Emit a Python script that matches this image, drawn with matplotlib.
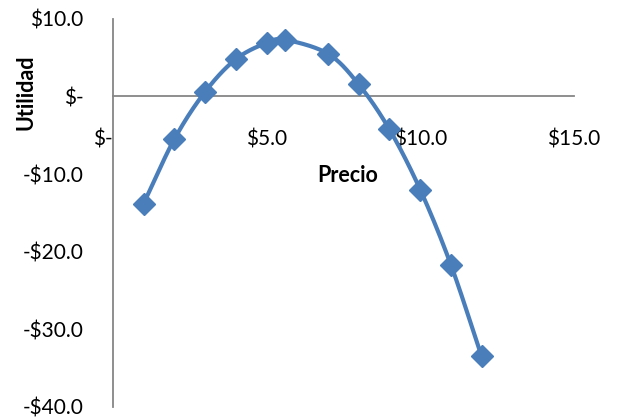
import numpy as np
import matplotlib.pyplot as plt

plt.rcParams['font.family'] = ['Lato', 'DejaVu Sans']

# Precio vs Utilidad
precio = [1.0, 2.0, 3.0, 4.0, 5.0, 5.6, 7.0, 8.0, 9.0, 10.0, 11.0, 12.0]
utilidad = [-13.8, -5.5, 0.6, 4.8, 6.9, 7.3, 5.5, 1.55, -4.25, -12.0, -21.7, -33.5]

x_ticks = [0, 5, 10, 15]
x_labels = ['$-', '$5.0', '$10.0', '$15.0']
y_ticks = [10, 0, -10, -20, -30, -40]
y_labels = ['$10.0', '$-', '-$10.0', '-$20.0', '-$30.0', '-$40.0']

blue = '#4A7EBB'
grey = '#868686'


def smooth(xs, ys, n=30):
    """Catmull-Rom spline through the points, like a smoothed line."""
    p = np.column_stack([xs, ys])
    p = np.vstack([p[0] - (p[1] - p[0]), p, p[-1] + (p[-1] - p[-2])])
    out = []
    t = np.linspace(0, 1, n)[:, None]
    for i in range(1, len(p) - 2):
        p0, p1, p2, p3 = p[i - 1], p[i], p[i + 1], p[i + 2]
        seg = 0.5 * ((2 * p1) + (-p0 + p2) * t
                     + (2 * p0 - 5 * p1 + 4 * p2 - p3) * t ** 2
                     + (-p0 + 3 * p1 - 3 * p2 + p3) * t ** 3)
        out.append(seg if i == 1 else seg[1:])
    out = np.vstack(out)
    return out[:, 0], out[:, 1]


fig = plt.figure(figsize=(6.17, 4.19), dpi=100)
ax = fig.add_axes([0.183, 0.029, 0.747, 0.926])

sx, sy = smooth(precio, utilidad)
ax.plot(sx, sy, color=blue, lw=3.0, solid_capstyle='round', zorder=3)
ax.plot(precio, utilidad, ls='none', marker='D', ms=11, color=blue, zorder=4)

ax.set_xlim(0, 15)
ax.set_ylim(-40, 10)

for s in ['top', 'right']:
    ax.spines[s].set_visible(False)
ax.spines['bottom'].set_position(('data', 0))
ax.spines['left'].set_position(('data', 0))
for s in ['bottom', 'left']:
    ax.spines[s].set_color(grey)
    ax.spines[s].set_linewidth(1.3)

ax.set_xticks(x_ticks)
ax.set_xticklabels(x_labels)
ax.set_yticks(y_ticks)
ax.set_yticklabels(y_labels)
ax.tick_params(axis='x', length=0, pad=24, labelsize=15)
ax.tick_params(axis='y', length=0, pad=21, labelsize=15)
ax.get_xticklabels()[0].set_horizontalalignment('right')

fig.text(0.564, 0.582, 'Precio', fontsize=15.5, fontweight='bold', ha='center', va='center')
fig.text(0.042, 0.78, 'Utilidad', fontsize=15.5, fontweight='bold', rotation=90,
         ha='center', va='center')

fig.savefig('out.png', dpi=100)
